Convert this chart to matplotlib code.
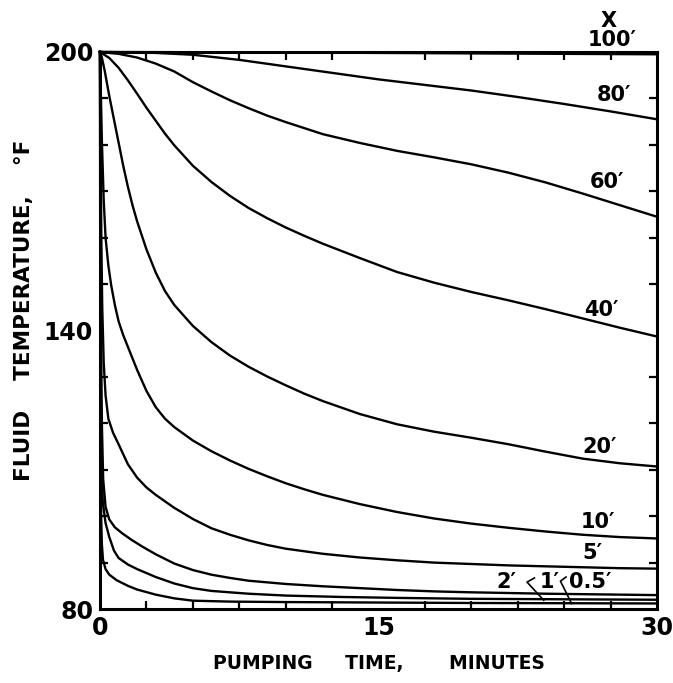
import matplotlib
matplotlib.use('Agg')
import matplotlib.pyplot as plt
from matplotlib.ticker import MultipleLocator

# depth x of each curve (ft) and the values
depths = ['100', '80', '60', '40', '20', '10', '5', '2', '1', '0.5']

t_100 = [0, 10, 20, 30]
T_100 = [200, 199.9, 199.7, 199.5]

t_80 = [0, 2.5, 5, 7.5, 10, 12.5, 15, 17.5, 20, 22.5, 25, 27.5, 30]
T_80 = [200, 199.9, 199.4, 198.3, 196.9, 195.5, 194.1, 192.9, 191.7, 190.3, 188.8, 187.2, 185.5]

t_60 = [0, 1, 2, 3, 4, 5, 6, 7, 8, 9, 10, 12, 14, 16, 18, 20, 22, 24, 26, 28, 30]
T_60 = [200, 199.6, 198.8, 197.5, 195.8, 193.5, 191.5, 189.6, 187.9, 186.3, 184.9, 182.3,
        180.4, 178.7, 177.3, 175.8, 174.0, 171.9, 169.5, 167.0, 164.5]

t_40 = [0, 0.5, 1, 1.5, 2, 2.5, 3, 3.5, 4, 5, 6, 7, 8, 9, 10, 11, 12, 14, 16, 18, 20,
        22, 24, 26, 28, 30]
T_40 = [200, 198.7, 196.6, 193.9, 191.0, 188.0, 185.2, 182.4, 179.9, 175.5, 172.0, 169.0,
        166.4, 164.2, 162.2, 160.4, 158.7, 155.6, 152.6, 150.3, 148.3, 146.5, 144.6,
        142.6, 140.6, 138.7]

t_20 = [0, 0.1, 0.25, 0.5, 0.75, 1, 1.25, 1.5, 1.75, 2, 2.5, 3, 3.5, 4, 5, 6, 7, 8, 9,
        10, 11, 12, 14, 16, 18, 20, 22, 24, 26, 28, 30]
T_20 = [200, 198.8, 196, 190.5, 185.5, 180.5, 175.5, 171, 167, 163.5, 157.5, 152.5, 148.5,
        145.5, 141, 137.5, 134.6, 132.2, 130.1, 128.2, 126.4, 124.8, 122.0, 119.8, 118.2,
        116.9, 115.5, 113.9, 112.4, 111.4, 110.7]

t_10 = [0, 0.05, 0.1, 0.2, 0.3, 0.45, 0.6, 0.8, 1, 1.25, 1.5, 2, 2.5, 3, 3.5, 4, 5, 6, 7,
        8, 9, 10, 11, 12, 14, 16, 18, 20, 22, 24, 26, 28, 30]
T_10 = [200, 190, 181, 168, 160, 154, 149.8, 145.5, 142, 139, 136.5, 131.5, 127, 123.5,
        121, 119.2, 116.3, 114, 112, 110.2, 108.6, 107.1, 105.8, 104.6, 102.6, 100.9, 99.5,
        98.4, 97.5, 96.7, 96.0, 95.5, 95.2]

t_5 = [0, 0.03, 0.07, 0.12, 0.2, 0.3, 0.45, 0.7, 1, 1.5, 2, 2.5, 3, 4, 5, 6, 7, 8, 9, 10,
       12, 14, 16, 18, 20, 22, 24, 26, 28, 30]
T_5 = [200, 180, 160, 145, 133, 126, 121, 118, 115.5, 111.2, 108.3, 106.2, 104.6, 101.8,
       99.4, 97.4, 96, 94.8, 93.8, 93, 91.9, 91.1, 90.5, 90.0, 89.7, 89.4, 89.2, 89.0,
       88.8, 88.7]

t_2 = [0, 0.02, 0.05, 0.1, 0.17, 0.3, 0.5, 0.8, 1.2, 1.7, 2.3, 3, 4, 5, 6, 7, 8, 10, 12,
       14, 16, 18, 20, 24, 30]
T_2 = [200, 170, 140, 120, 108, 102, 99.3, 97.6, 96.3, 94.9, 93.4, 91.8, 89.8, 88.4, 87.4,
       86.7, 86.1, 85.4, 84.9, 84.5, 84.1, 83.8, 83.6, 83.3, 83.0]

t_1 = [0, 0.015, 0.04, 0.08, 0.15, 0.3, 0.5, 0.75, 1, 1.5, 2, 3, 4, 5, 6, 8, 10, 13, 16,
       20, 25, 30]
T_1 = [200, 165, 130, 112, 103, 98.5, 95.5, 92.6, 91, 89.6, 88.6, 86.9, 85.5, 84.5, 83.9,
       83.3, 82.9, 82.6, 82.4, 82.2, 82.1, 82.0]

t_05 = [0, 0.01, 0.03, 0.06, 0.1, 0.16, 0.3, 0.5, 0.9, 1.5, 2, 3, 4, 5, 7, 10, 15, 20, 30]
T_05 = [200, 160, 120, 100, 94, 90.6, 88.6, 87.4, 86.2, 85.0, 84.2, 83.1, 82.3, 81.8,
        81.6, 81.5, 81.4, 81.3, 81.2]

curves = [(t_100, T_100), (t_80, T_80), (t_60, T_60), (t_40, T_40), (t_20, T_20),
          (t_10, T_10), (t_5, T_5), (t_2, T_2), (t_1, T_1), (t_05, T_05)]

plt.rcParams['font.family'] = ['DejaVu Sans']
plt.rcParams['font.weight'] = 'bold'

fig = plt.figure(figsize=(6.73, 6.83), dpi=100)
ax = fig.add_axes([0.1486, 0.1083, 0.8276, 0.8156])

for t, T in curves:
    ax.plot(t, T, color='black', lw=1.7, solid_joinstyle='round', clip_on=False)

ax.set_xlim(0, 30)
ax.set_ylim(80, 200)
ax.set_xticks([0, 15, 30])
ax.set_yticks([80, 140, 200])
ax.xaxis.set_minor_locator(MultipleLocator(2.5))
ax.yaxis.set_minor_locator(MultipleLocator(10))
ax.tick_params(which='both', direction='in', top=True, right=True, width=1.6, color='black')
ax.tick_params(which='major', length=0, labelsize=17, pad=5)
ax.tick_params(which='minor', length=6)
for s in ax.spines.values():
    s.set_linewidth(2.2)

ax.set_xlabel('PUMPING     TIME,       MINUTES', fontsize=13.5, fontweight='bold', labelpad=10)
ax.set_ylabel('FLUID    TEMPERATURE,    °F', fontsize=15.5, fontweight='bold')
ax.yaxis.set_label_coords(-0.118, 0.537)

# curve labels
lab_kw = dict(fontsize=15, fontweight='bold', ha='center', va='center')
ax.text(27.4, 206.7, 'X', clip_on=False, **lab_kw)
ax.text(27.6, 202.6, '100′', clip_on=False, **lab_kw)
ax.text(27.7, 190.7, '80′', **lab_kw)
ax.text(27.3, 172.0, '60′', **lab_kw)
ax.text(27.0, 144.4, '40′', **lab_kw)
ax.text(26.9, 114.9, '20′', **lab_kw)
ax.text(26.8, 98.7, '10′', **lab_kw)
ax.text(26.5, 92.1, '5′', **lab_kw)
ax.text(21.9, 85.8, '2′', **lab_kw)
ax.text(24.2, 85.8, '1′', **lab_kw)
ax.text(26.4, 85.8, '0.5′', **lab_kw)

# leader lines for 1' and 0.5'
ax.plot([23.4, 23.0, 23.9], [86.7, 85.8, 81.9], color='black', lw=1.2)
ax.plot([25.1, 24.8, 25.4], [86.9, 86.0, 81.2], color='black', lw=1.2)

fig.savefig('out.png', dpi=100)
